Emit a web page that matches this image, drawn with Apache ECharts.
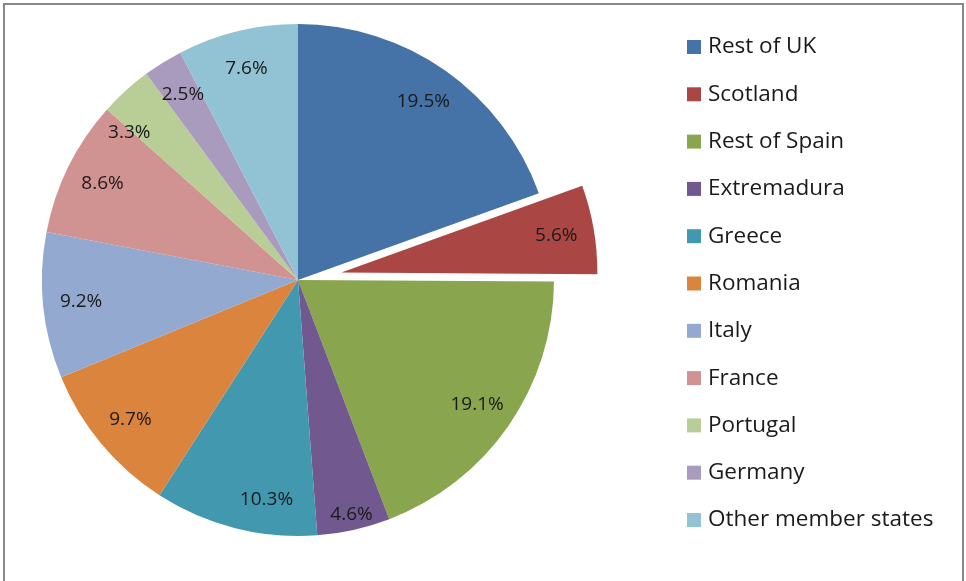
<!DOCTYPE html>
<html>
<head>
<meta charset="utf-8">
<script src="https://cdn.jsdelivr.net/npm/echarts@6/dist/echarts.min.js"></script>
<style>
  html, body { margin: 0; padding: 0; background: #fff; }
  #chart { width: 966px; height: 581px; }
</style>
</head>
<body>
<div id="chart"></div>
<script>
const regions = ['Rest of UK', 'Scotland', 'Rest of Spain', 'Extremadura', 'Greece', 'Romania',
  'Italy', 'France', 'Portugal', 'Germany', 'Other member states'];
const shares = [19.5, 5.6, 19.1, 4.6, 10.3, 9.7, 9.2, 8.6, 3.3, 2.5, 7.6];
const colors = ['#4572A7', '#AA4643', '#89A54E', '#71588F', '#4198AF', '#DB843D',
  '#93A9CF', '#D19392', '#B9CD96', '#A99BBD', '#92C3D5'];
const exploded = 'Scotland';

// Excel nudged a few of its labels off the mid-angle, copy that
const labelNudge = {
  'Extremadura': [6, 22],
  'Greece': [22, 8],
  'Portugal': [-22, 14]
};

const chart = echarts.init(document.getElementById('chart'));

const slices = regions.map((name, i) => ({
  name: name,
  value: shares[i],
  selected: name === exploded,
  itemStyle: { color: colors[i] }
}));

// transparent copy only used to place labels nearer the rim, like Excel does
const labelSlices = regions.map((name, i) => {
  const item = { name: name, value: shares[i], selected: name === exploded };
  if (labelNudge[name]) item.label = { offset: labelNudge[name] };
  return item;
});

const center = [298, 280];

chart.setOption({
  animation: false,
  color: colors,
  graphic: [{
    type: 'rect',
    shape: { x: 4, y: 4, width: 959, height: 600 },
    style: { fill: 'none', stroke: '#888', lineWidth: 2 },
    silent: true
  }],
  legend: {
    orient: 'vertical',
    left: 687,
    top: 35,
    padding: 0,
    icon: 'rect',
    itemWidth: 14,
    itemHeight: 14,
    itemGap: 23.3,
    data: regions,
    selectedMode: false,
    textStyle: { fontFamily: 'Open Sans', fontSize: 22.5, color: '#1a1a1a', lineHeight: 24, padding: [0, 0, 0, 2] }
  },
  series: [
    {
      type: 'pie',
      center: center,
      radius: 256,
      startAngle: 90,
      clockwise: true,
      selectedMode: 'single',
      selectedOffset: 44,
      avoidLabelOverlap: false,
      label: { show: false },
      labelLine: { show: false },
      emphasis: { disabled: true },
      itemStyle: { borderWidth: 0 },
      data: slices
    },
    {
      type: 'pie',
      center: center,
      radius: [174, 256],
      startAngle: 90,
      clockwise: true,
      selectedMode: 'single',
      selectedOffset: 44,
      avoidLabelOverlap: false,
      silent: true,
      itemStyle: { color: 'rgba(0,0,0,0)' },
      label: {
        show: true,
        position: 'inside',
        formatter: p => p.value.toFixed(1) + '%',
        fontFamily: 'Open Sans',
        fontSize: 19,
        color: '#1a1a1a'
      },
      labelLine: { show: false },
      emphasis: { disabled: true },
      data: labelSlices
    }
  ]
});
</script>
</body>
</html>
